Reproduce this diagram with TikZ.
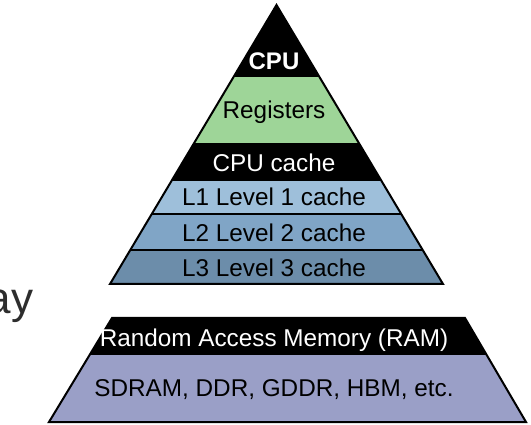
\documentclass[tikz,border=0pt]{standalone}
\usepackage{fontspec}
\setmainfont{Liberation Sans}
\definecolor{regGreen}{RGB}{158,213,152}
\definecolor{lOne}{RGB}{158,191,218}
\definecolor{lTwo}{RGB}{128,165,198}
\definecolor{lThree}{RGB}{108,141,170}
\definecolor{ramPurple}{RGB}{154,159,199}
\definecolor{titleGray}{RGB}{45,45,45}
\begin{document}
\begin{tikzpicture}[x=1pt,y=-1pt,
  lbl/.style={font=\fontsize{24.3}{28}\selectfont, inner sep=0pt, anchor=base},
  wlbl/.style={lbl, text=white},
  edge/.style={line width=2pt, line join=miter}]
\useasboundingbox (0,0) rectangle (531,425);
% pyramid
\coordinate (apex) at (276.5,5);
\coordinate (bl) at (110,284);
\coordinate (br) at (443,284);
\begin{scope}
  \clip (apex) -- (br) -- (bl) -- cycle;
  \fill[black] (0,0) rectangle (531,77);
  \fill[regGreen] (0,77) rectangle (531,143);
  \fill[black] (0,143) rectangle (531,180);
  \fill[lOne] (0,180) rectangle (531,214);
  \fill[lTwo] (0,214) rectangle (531,250);
  \fill[lThree] (0,250) rectangle (531,285);
  \draw[line width=2pt] (0,214) -- (531,214) (0,250) -- (531,250) (0,180) -- (531,180);
\end{scope}
\draw[edge] (apex) -- (br) -- (bl) -- cycle;
% RAM trapezoid
\coordinate (tl) at (112,318);
\coordinate (tr) at (465,318);
\coordinate (bbr) at (526,422);
\coordinate (bbl) at (49,422);
\begin{scope}
  \clip (tl) -- (tr) -- (bbr) -- (bbl) -- cycle;
  \fill[black] (0,310) rectangle (531,355);
  \fill[ramPurple] (0,355) rectangle (531,425);
\end{scope}
\draw[edge] (tl) -- (tr) -- (bbr) -- (bbl) -- cycle;
% labels
\node[wlbl, font=\fontsize{24}{28}\selectfont\bfseries] (cpu) at (274,69.6) {CPU};
\node[lbl] (reg) at (274,118.6) {Registers};
\node[wlbl] (cc) at (274,172) {CPU cache};
\node[lbl] (l1) at (274,206) {L1 Level 1 cache};
\node[lbl] (l2) at (274,242) {L2 Level 2 cache};
\node[lbl] (l3) at (274,277) {L3 Level 3 cache};
\node[wlbl] (ram) at (274,347) {Random Access Memory (RAM)};
\node[lbl] (sdram) at (274,396) {SDRAM, DDR, GDDR, HBM, etc.};
\node[inner sep=0pt, anchor=base east, text=titleGray, font=\fontsize{44}{48}\selectfont] (title) at (33.5,313) {ay};
\end{tikzpicture}
\end{document}
